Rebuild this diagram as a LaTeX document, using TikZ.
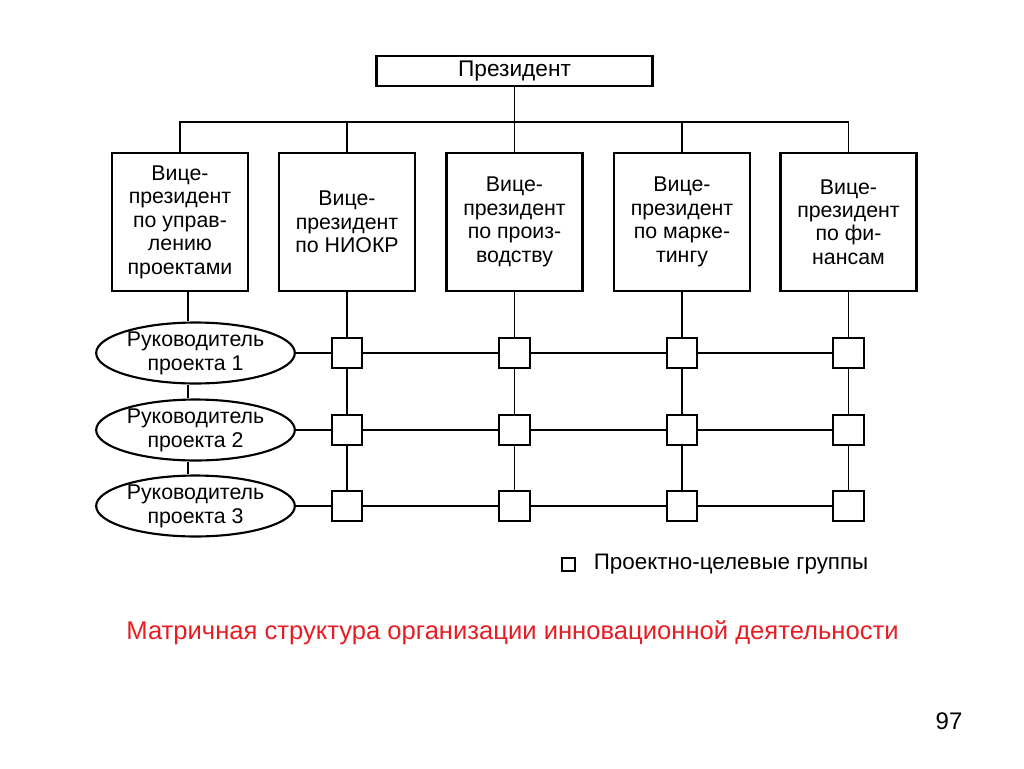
\documentclass[tikz,border=0pt]{standalone}
\usepackage{fontspec}
\setmainfont{Liberation Sans}
\usetikzlibrary{shapes.geometric,calc}
\definecolor{titlered}{RGB}{230,30,35}
\begin{document}
\begin{tikzpicture}[x=0.75pt,y=-0.75pt,
  line width=1.2pt,
  txt/.style={font=\fontsize{16}{17.6}\selectfont, align=center},
  pres/.style={draw, line width=1.6pt, minimum width=207pt, minimum height=23pt, inner sep=0pt, font=\fontsize{17}{19}\selectfont},
  vp/.style={draw, line width=1.6pt, minimum width=102pt, minimum height=103.5pt, inner sep=0pt, txt},
  lead/.style={draw, ellipse, line width=1.6pt, minimum width=149pt, minimum height=45pt, inner sep=0pt, align=center, font=\fontsize{16}{18}\selectfont},
  grp/.style={draw, line width=1.7pt, minimum width=23pt, minimum height=23pt, inner sep=0pt},
  lgd/.style={draw, line width=1.2pt, minimum width=9.5pt, minimum height=9.5pt, inner sep=0pt}]
\useasboundingbox (0,0) rectangle (1024,768);
\node[pres] (P) at (514.5,71) {Президент};
\node[vp] (v1) at (180,222) {Вице-\\президент\\по управ-\\лению\\проектами};
\node[vp] (v2) at (347,222) {Вице-\\президент\\по НИОКР};
\node[vp] (v3) at (514.5,222) {Вице-\\президент\\по произ-\\водству};
\node[vp] (v4) at (682,222) {Вице-\\президент\\по марке-\\тингу};
\node[vp] (v5) at (848.5,222) {Вице-\\президент\\по фи-\\нансам};
\coordinate (bus) at (514.5,122);
\draw (P.south) -- (bus);
\draw (v1.north) -- (v1.north |- bus) -- (v5.north |- bus) -- (v5.north);
\foreach \i in {2,3,4} \draw (v\i.north) -- (v\i.north |- bus);
\node[lead] (e1) at (195.5,353) {Руководитель\\проекта 1};
\node[lead] (e2) at (195.5,430) {Руководитель\\проекта 2};
\node[lead] (e3) at (195.5,506) {Руководитель\\проекта 3};
\coordinate (ec) at (188,0);
\draw (v1.south -| ec) -- (e1.north -| ec);
\draw (e1.south -| ec) -- (e2.north -| ec);
\draw (e2.south -| ec) -- (e3.north -| ec);
\foreach \c/\x in {2/347,3/514.5,4/682,5/848.5}{
  \node[grp] (s\c1) at (\x,353) {};
  \node[grp] (s\c2) at (\x,430) {};
  \node[grp] (s\c3) at (\x,506) {};
  \draw (v\c.south) -- (s\c1.north);
  \draw (s\c1.south) -- (s\c2.north);
  \draw (s\c2.south) -- (s\c3.north);
}
\foreach \r in {1,2,3}{
  \draw (e\r.east) -- (s2\r.west);
  \draw (s2\r.east) -- (s3\r.west);
  \draw (s3\r.east) -- (s4\r.west);
  \draw (s4\r.east) -- (s5\r.west);
}
\node[lgd] (lg) at (568.5,564.5) {};
\node[anchor=west, font=\fontsize{16.8}{19}\selectfont, inner sep=0pt] (lgt) at (593,564) {Проектно-целевые группы};
\node[font=\fontsize{19.2}{22}\selectfont, text=titlered, inner sep=0pt] (title) at (512.5,633) {Матричная структура организации инновационной деятельности};
\node[font=\fontsize{18}{21}\selectfont, inner sep=0pt] (pg) at (949,721) {97};
\end{tikzpicture}
\end{document}
